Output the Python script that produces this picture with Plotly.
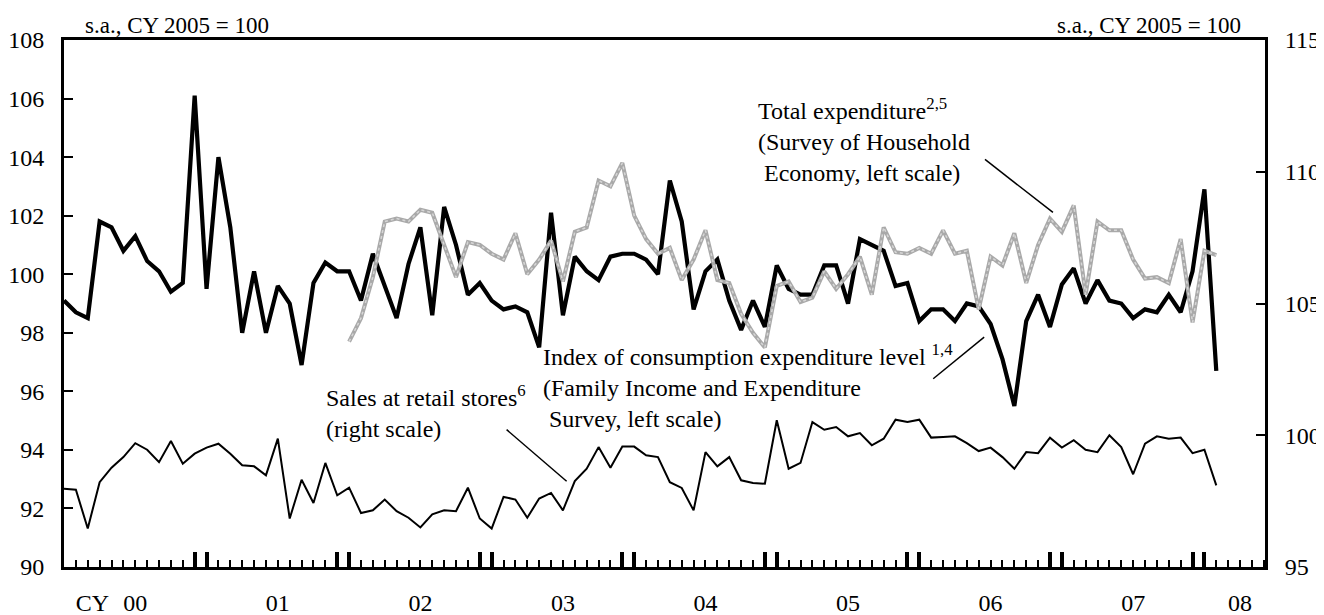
import plotly.graph_objects as go

# Month index: 0 = Jan 2000
consumption_level = [99.1, 98.7, 98.5, 101.8, 101.6, 100.8, 101.3, 100.45, 100.1, 99.4,
                     99.7, 106.1, 99.5, 104.0, 101.6, 98.0, 100.1, 98.0, 99.6, 99.0,
                     96.9, 99.7, 100.4, 100.1, 100.1, 99.1, 100.7, 99.6, 98.5, 100.35,
                     101.6, 98.6, 102.3, 101.0, 99.3, 99.7, 99.1, 98.8, 98.9, 98.7,
                     97.5, 102.1, 98.6, 100.6, 100.1, 99.8, 100.6, 100.7, 100.7, 100.5,
                     100.0, 103.2, 101.8, 98.8, 100.1, 100.5, 99.1, 98.1, 99.1, 98.2,
                     100.3, 99.5, 99.3, 99.3, 100.3, 100.3, 99.0, 101.2, 101.0, 100.8,
                     99.6, 99.7, 98.4, 98.8, 98.8, 98.4, 99.0, 98.9, 98.3, 97.1,
                     95.5, 98.4, 99.3, 98.2, 99.65, 100.2, 99.0, 99.8, 99.1, 99.0,
                     98.5, 98.8, 98.7, 99.3, 98.7, 100.1, 102.9, 96.7]

total_expenditure_start = 24
total_expenditure = [97.7, 98.5, 99.9, 101.8, 101.9, 101.8, 102.2, 102.1, 101.0, 99.9,
                     101.1, 101.0, 100.7, 100.5, 101.4, 100.0, 100.5, 101.15, 99.75, 101.45,
                     101.6, 103.2, 103.0, 103.8, 102.0, 101.2, 100.7, 100.9, 99.8, 100.5,
                     101.5, 99.8, 99.7, 98.65, 98.0, 97.5, 99.6, 99.75, 99.05, 99.2,
                     100.1, 99.5, 100.0, 100.6, 99.3, 101.6, 100.75, 100.7, 100.9, 100.7,
                     101.5, 100.7, 100.8, 98.8, 100.6, 100.3, 101.4, 99.7, 101.0, 101.9,
                     101.45, 102.35, 99.3, 101.8, 101.5, 101.5, 100.5, 99.85, 99.9, 99.7,
                     101.2, 98.35, 100.8, 100.65]

retail_sales = [97.97, 97.93, 96.46, 98.22, 98.77, 99.17, 99.70, 99.45, 98.98, 99.78,
                98.92, 99.30, 99.53, 99.68, 99.30, 98.86, 98.82, 98.48, 99.87, 96.84,
                98.31, 97.43, 98.95, 97.72, 98.01, 97.05, 97.15, 97.56, 97.12, 96.87,
                96.50, 97.00, 97.15, 97.12, 98.01, 96.84, 96.46, 97.66, 97.56, 96.87,
                97.60, 97.81, 97.15, 98.26, 98.73, 99.55, 98.77, 99.57, 99.57, 99.24,
                99.17, 98.22, 98.00, 97.15, 99.36, 98.82, 99.17, 98.29, 98.19, 98.16,
                100.57, 98.73, 98.95, 100.50, 100.21, 100.31, 99.96, 100.08, 99.62, 99.87,
                100.59, 100.50, 100.59, 99.91, 99.93, 99.96, 99.70, 99.40, 99.53, 99.17,
                98.73, 99.36, 99.32, 99.91, 99.53, 99.81, 99.45, 99.36, 100.00, 99.55,
                98.52, 99.68, 99.96, 99.87, 99.91, 99.32, 99.45, 98.10]

year_tick_pos = [2.4, 6, 18, 30, 42, 54, 66, 78, 90, 99]
year_tick_text = ["CY", "00", "01", "02", "03", "04", "05", "06", "07", "08"]
year_break_ticks = [0] + [v for y in range(1, 9) for v in (12 * y - 1, 12 * y)]

FONT = "Liberation Serif"
x_months = list(range(len(consumption_level)))
x_total = list(range(total_expenditure_start, total_expenditure_start + len(total_expenditure)))
x_retail = list(range(len(retail_sales)))
XR = [0, 101.1]

fig = go.Figure()
fig.add_trace(go.Scatter(x=x_months, y=consumption_level, mode="lines",
                         line=dict(color="black", width=4.2), hoverinfo="skip", showlegend=False))
fig.add_trace(go.Scatter(x=x_total, y=total_expenditure, mode="lines",
                         line=dict(color="#a9a9a9", width=4), hoverinfo="skip", showlegend=False))
fig.add_trace(go.Scatter(x=x_total, y=total_expenditure, mode="lines",
                         line=dict(color="#d6d6d6", width=1.5, dash="dot"), hoverinfo="skip", showlegend=False))
fig.add_trace(go.Scatter(x=x_retail, y=retail_sales, mode="lines", yaxis="y2",
                         line=dict(color="black", width=2), hoverinfo="skip", showlegend=False))
fig.add_trace(go.Scatter(x=[0], y=[None], xaxis="x2", mode="lines", showlegend=False, hoverinfo="skip"))

fig.update_layout(
    width=1316, height=607,
    margin=dict(l=56, r=59, t=32, b=48, autoexpand=False),
    paper_bgcolor="white", plot_bgcolor="white",
    font=dict(family=FONT, size=24, color="black"),
    xaxis=dict(range=XR, tickmode="array", tickvals=year_break_ticks, ticks="inside",
               ticklen=15, tickwidth=3.5, tickcolor="black", showticklabels=False,
               showline=True, linewidth=2.5, linecolor="black", mirror=True,
               showgrid=False, zeroline=False, automargin=False,
               minor=dict(tickmode="linear", tick0=0, dtick=1, ticks="inside",
                          ticklen=7, tickwidth=1.7, tickcolor="black", showgrid=False)),
    xaxis2=dict(range=XR, overlaying="x", anchor="y", side="bottom", tickmode="array",
                tickvals=year_tick_pos, ticktext=year_tick_text, ticks="", showline=False,
                showgrid=False, zeroline=False, ticklabelstandoff=19, automargin=False,
                tickfont=dict(family=FONT, size=24, color="black")),
    yaxis=dict(range=[90, 108], dtick=2, tick0=90, ticks="inside", ticklen=9, tickwidth=2,
               tickcolor="black", showline=True, linewidth=3, linecolor="black",
               showgrid=False, zeroline=False, ticklabelstandoff=12, automargin=False,
               tickfont=dict(family=FONT, size=24, color="black")),
    yaxis2=dict(range=[95, 115], dtick=5, tick0=95, ticks="inside", ticklen=9, tickwidth=2,
                tickcolor="black", showline=True, linewidth=3, linecolor="black",
                overlaying="y", side="right", showgrid=False, zeroline=False, automargin=False,
                ticklabelstandoff=12, tickfont=dict(family=FONT, size=24, color="black")),
)

ann_font = dict(family=FONT, size=24, color="black")
fig.add_annotation(text="s.a., CY 2005 = 100", xref="paper", yref="paper", x=0.0158, y=1.0,
                   xanchor="left", yanchor="bottom", showarrow=False,
                   font=dict(family=FONT, size=23, color="black"))
fig.add_annotation(text="s.a., CY 2005 = 100", xref="paper", yref="paper", x=0.9817, y=1.0,
                   xanchor="right", yanchor="bottom", showarrow=False,
                   font=dict(family=FONT, size=23, color="black"))
fig.add_annotation(text="Total expenditure<sup>2,5</sup><br>(Survey of Household<br> Economy, left scale)",
                   xref="x", yref="y", x=58.25, y=104.6, xanchor="left", yanchor="middle",
                   align="left", showarrow=False, font=ann_font)
fig.add_annotation(text="Index of consumption expenditure level <sup>1,4</sup><br>(Family Income and Expenditure<br> Survey, left scale)",
                   xref="x", yref="y", x=40.15, y=96.17, xanchor="left", yanchor="middle",
                   align="left", showarrow=False, font=ann_font)
fig.add_annotation(text="Sales at retail stores<sup>6</sup><br>(right scale)",
                   xref="x", yref="y", x=21.85, y=95.32, xanchor="left", yanchor="middle",
                   align="left", showarrow=False, font=ann_font)

# leader lines
leaders = [((77.53, 103.92), (83.25, 102.11)),
           ((73.17, 96.43), (77.46, 97.85)),
           ((37.26, 94.69), (42.31, 92.93))]
for (xa, ya), (xb, yb) in leaders:
    fig.add_shape(type="line", xref="x", yref="y", x0=xa, y0=ya, x1=xb, y1=yb,
                  line=dict(color="black", width=1.5))

fig.write_html("out.html")
